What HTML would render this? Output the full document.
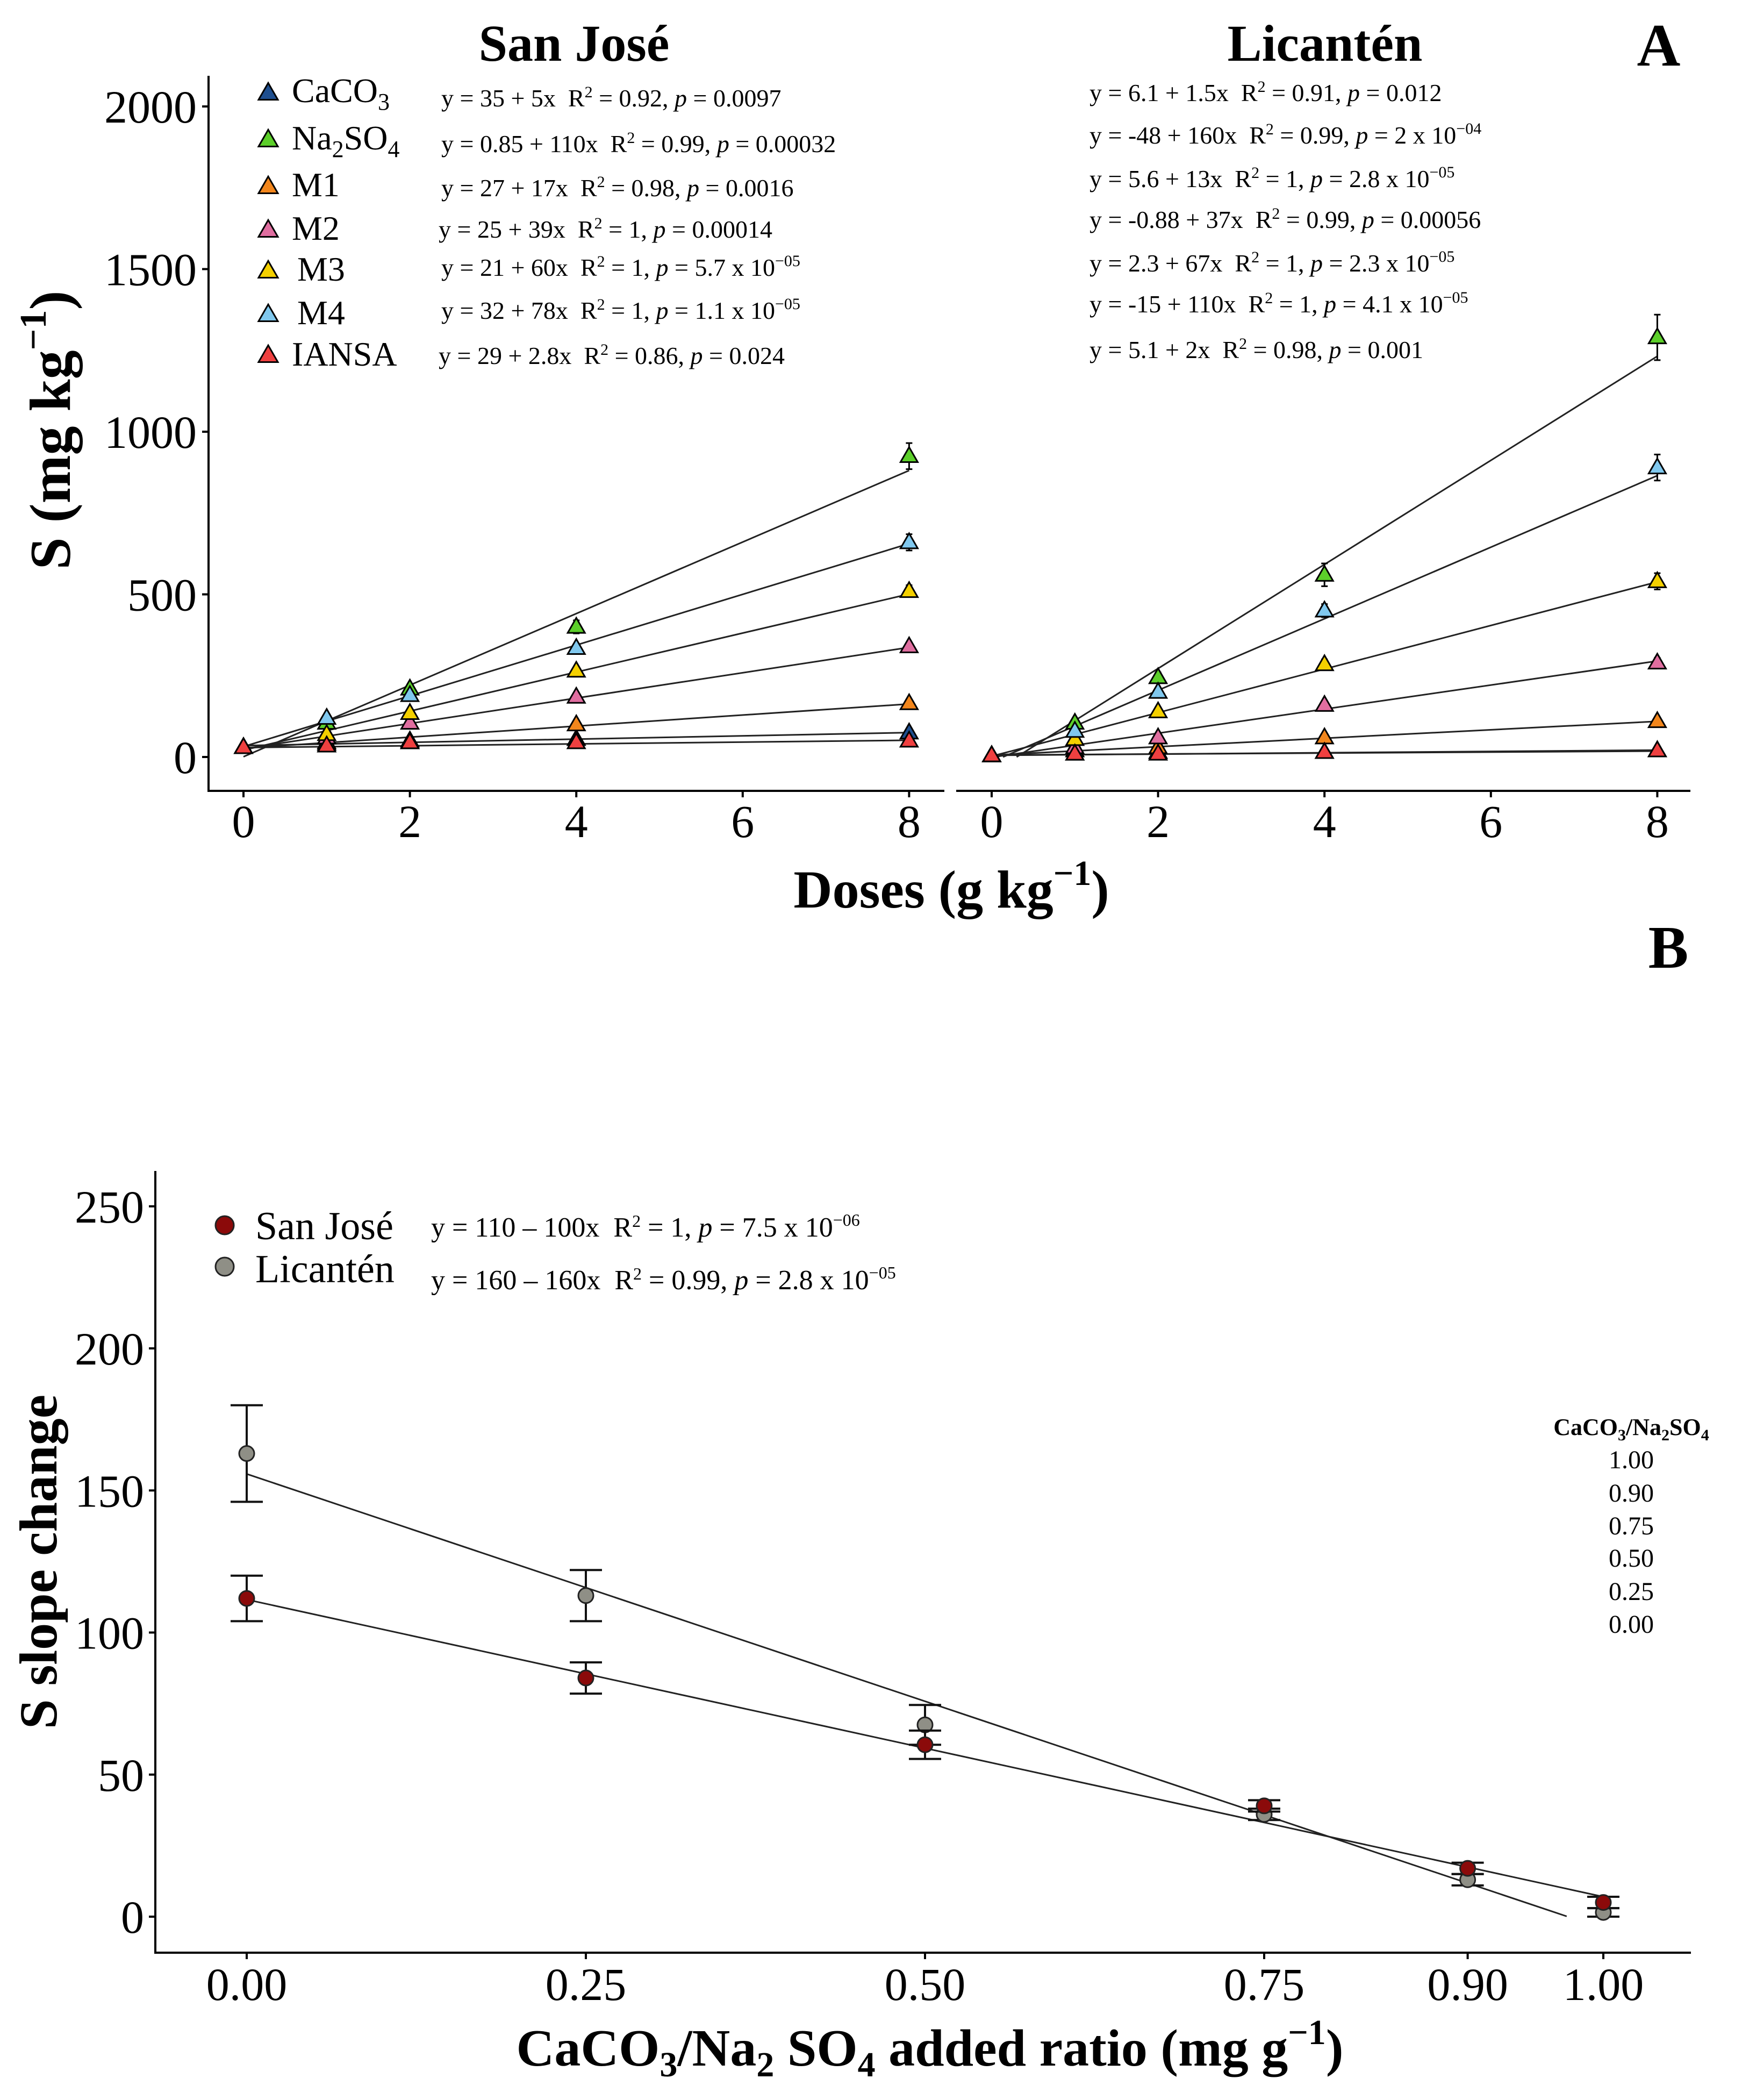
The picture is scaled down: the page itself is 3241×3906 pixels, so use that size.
<!DOCTYPE html>
<html><head><meta charset="utf-8">
<style>
html,body{margin:0;padding:0;background:#fff;}
svg{display:block;font-family:"Liberation Serif",serif;}
text{white-space:pre;}
.eq{font-size:46px;}
.eqb{font-size:52px;}
</style></head>
<body>
<svg id="fig" width="3241" height="3906" viewBox="0 0 3241 3906" xmlns="http://www.w3.org/2000/svg">
<rect width="3241" height="3906" fill="#fff"/>
<text x="1068" y="113" text-anchor="middle" font-size="96" font-weight="bold">San José</text>
<text x="2465" y="113" text-anchor="middle" font-size="96" font-weight="bold">Licantén</text>
<text x="3086" y="122" text-anchor="middle" font-size="112" font-weight="bold">A</text>
<text x="3104" y="1800" text-anchor="middle" font-size="112" font-weight="bold">B</text>
<text transform="translate(130,800) rotate(-90)" text-anchor="middle" font-size="108" font-weight="bold">S (mg kg<tspan dy="-45" font-size="70">−1</tspan><tspan dy="45">)</tspan></text>
<text x="1770" y="1688" text-anchor="middle" font-size="100" font-weight="bold">Doses (g kg<tspan dy="-42" font-size="66">−1</tspan><tspan dy="42">)</tspan></text>

<g font-size="64">
 <text x="543" y="190">CaCO<tspan dy="14" font-size="44">3</tspan></text>
 <text x="543" y="278">Na<tspan dy="14" font-size="44">2</tspan><tspan dy="-14">SO</tspan><tspan dy="14" font-size="44">4</tspan></text>
 <text x="543" y="365">M1</text>
 <text x="543" y="446">M2</text>
 <text x="553" y="522">M3</text>
 <text x="553" y="603">M4</text>
 <text x="543" y="680">IANSA</text>
</g>
<g class="eq">
 <text x="821" y="198">y = 35 + 5x  R<tspan dy="-17" font-size="30">2</tspan><tspan dy="17"> = 0.92, </tspan><tspan font-style="italic">p</tspan> = 0.0097</text>
 <text x="821" y="283">y = 0.85 + 110x  R<tspan dy="-17" font-size="30">2</tspan><tspan dy="17"> = 0.99, </tspan><tspan font-style="italic">p</tspan> = 0.00032</text>
 <text x="821" y="365">y = 27 + 17x  R<tspan dy="-17" font-size="30">2</tspan><tspan dy="17"> = 0.98, </tspan><tspan font-style="italic">p</tspan> = 0.0016</text>
 <text x="816" y="442">y = 25 + 39x  R<tspan dy="-17" font-size="30">2</tspan><tspan dy="17"> = 1, </tspan><tspan font-style="italic">p</tspan> = 0.00014</text>
 <text x="821" y="513">y = 21 + 60x  R<tspan dy="-17" font-size="30">2</tspan><tspan dy="17"> = 1, </tspan><tspan font-style="italic">p</tspan> = 5.7 x 10<tspan dy="-18" font-size="30">−05</tspan></text>
 <text x="821" y="593">y = 32 + 78x  R<tspan dy="-17" font-size="30">2</tspan><tspan dy="17"> = 1, </tspan><tspan font-style="italic">p</tspan> = 1.1 x 10<tspan dy="-18" font-size="30">−05</tspan></text>
 <text x="816" y="677">y = 29 + 2.8x  R<tspan dy="-17" font-size="30">2</tspan><tspan dy="17"> = 0.86, </tspan><tspan font-style="italic">p</tspan> = 0.024</text>
</g>
<g class="eq">
 <text x="2027" y="188">y = 6.1 + 1.5x  R<tspan dy="-17" font-size="30">2</tspan><tspan dy="17"> = 0.91, </tspan><tspan font-style="italic">p</tspan> = 0.012</text>
 <text x="2027" y="267">y = -48 + 160x  R<tspan dy="-17" font-size="30">2</tspan><tspan dy="17"> = 0.99, </tspan><tspan font-style="italic">p</tspan> = 2 x 10<tspan dy="-18" font-size="30">−04</tspan></text>
 <text x="2027" y="348">y = 5.6 + 13x  R<tspan dy="-17" font-size="30">2</tspan><tspan dy="17"> = 1, </tspan><tspan font-style="italic">p</tspan> = 2.8 x 10<tspan dy="-18" font-size="30">−05</tspan></text>
 <text x="2027" y="424">y = -0.88 + 37x  R<tspan dy="-17" font-size="30">2</tspan><tspan dy="17"> = 0.99, </tspan><tspan font-style="italic">p</tspan> = 0.00056</text>
 <text x="2027" y="505">y = 2.3 + 67x  R<tspan dy="-17" font-size="30">2</tspan><tspan dy="17"> = 1, </tspan><tspan font-style="italic">p</tspan> = 2.3 x 10<tspan dy="-18" font-size="30">−05</tspan></text>
 <text x="2027" y="581">y = -15 + 110x  R<tspan dy="-17" font-size="30">2</tspan><tspan dy="17"> = 1, </tspan><tspan font-style="italic">p</tspan> = 4.1 x 10<tspan dy="-18" font-size="30">−05</tspan></text>
 <text x="2027" y="666">y = 5.1 + 2x  R<tspan dy="-17" font-size="30">2</tspan><tspan dy="17"> = 0.98, </tspan><tspan font-style="italic">p</tspan> = 0.001</text>
</g>

<text transform="translate(105,2905) rotate(-90)" text-anchor="middle" font-size="100" font-weight="bold">S slope change</text>
<text x="1730" y="3842" text-anchor="middle" font-size="98" font-weight="bold">CaCO<tspan dy="20" font-size="66">3</tspan><tspan dy="-20">/Na</tspan><tspan dy="20" font-size="66">2</tspan><tspan dy="-20"> SO</tspan><tspan dy="20" font-size="66">4</tspan><tspan dy="-20"> added ratio (mg g</tspan><tspan dy="-40" font-size="66">−1</tspan><tspan dy="40">)</tspan></text>
<g>
 <text x="475" y="2305" font-size="74">San José</text>
 <text x="475" y="2385" font-size="74">Licantén</text>
 <text class="eqb" x="802" y="2300">y = 110 – 100x  R<tspan dy="-18" font-size="32">2</tspan><tspan dy="18"> = 1, </tspan><tspan font-style="italic">p</tspan> = 7.5 x 10<tspan dy="-20" font-size="32">−06</tspan></text>
 <text class="eqb" x="802" y="2398">y = 160 – 160x  R<tspan dy="-18" font-size="32">2</tspan><tspan dy="18"> = 0.99, </tspan><tspan font-style="italic">p</tspan> = 2.8 x 10<tspan dy="-20" font-size="32">−05</tspan></text>
</g>
<g text-anchor="middle">
 <text x="3035" y="2669" font-size="44" font-weight="bold">CaCO<tspan dy="10" font-size="30">3</tspan><tspan dy="-10">/Na</tspan><tspan dy="10" font-size="30">2</tspan><tspan dy="-10">SO</tspan><tspan dy="10" font-size="30">4</tspan></text>
 <g font-size="48"><text x="3035" y="2731">1.00</text><text x="3035" y="2793">0.90</text><text x="3035" y="2854">0.75</text><text x="3035" y="2914">0.50</text><text x="3035" y="2976">0.25</text><text x="3035" y="3037">0.00</text></g>
</g>
<g id="marks"></g>
</svg>
<script>
// ---------- Panel A data ----------
const doses = [0, 1, 2, 4, 8];
const treatments = ["CaCO3", "Na2SO4", "M1", "M2", "M3", "M4", "IANSA"];
const treatColors = ["#1f4f8f", "#5ccf2a", "#f2861c", "#e06ea0", "#f4d000", "#80c8ee", "#ef4040"];
const sjValues = [
  [30, 40, 45, 55, 75],
  [30, 105, 210, 400, 925],
  [30, 45, 50, 100, 165],
  [30, 60, 105, 185, 340],
  [30, 70, 135, 265, 510],
  [30, 120, 190, 335, 660],
  [30, 35, 45, 45, 50]
];
const sjErr = [
  [5, 5, 5, 10, 8],
  [5, 8, 12, 20, 40],
  [5, 5, 5, 8, 8],
  [5, 5, 8, 10, 10],
  [5, 5, 8, 12, 18],
  [5, 8, 10, 12, 25],
  [5, 5, 5, 5, 5]
];
const sjIntercept = [35, 0.85, 27, 25, 21, 32, 29];
const sjSlope = [5, 110, 17, 39, 60, 78, 2.8];
const licValues = [
  [5, 10, 15, 15, 20],
  [5, 105, 245, 560, 1290],
  [5, 20, 30, 60, 110],
  [5, 30, 60, 160, 290],
  [5, 55, 140, 285, 540],
  [5, 80, 200, 450, 890],
  [5, 10, 10, 15, 20]
];
const licErr = [
  [3, 3, 3, 3, 5],
  [3, 10, 15, 35, 70],
  [3, 5, 5, 8, 10],
  [3, 5, 8, 12, 15],
  [3, 5, 8, 15, 25],
  [3, 8, 10, 20, 40],
  [3, 3, 3, 3, 5]
];
const licIntercept = [6.1, -48, 5.6, -0.88, 2.3, -15, 5.1];
const licSlope = [1.5, 160, 13, 37, 67, 110, 2];
const yTicksA = [0, 500, 1000, 1500, 2000];
const xTicksA = [0, 2, 4, 6, 8];

// ---------- Panel B data ----------
const ratios = [0, 0.25, 0.5, 0.75, 0.9, 1.0];
const xTickLabelsB = ["0.00", "0.25", "0.50", "0.75", "0.90", "1.00"];
const sites = ["San José", "Licantén"];
const siteColors = ["#8b0a0a", "#8f8f86"];
const sjSlopeChange = [112, 84, 60.5, 39, 17, 5];
const sjSlopeErr = [8, 5.5, 5, 2, 2, 2];
const licSlopeChange = [163, 113, 67.5, 36, 13, 1.5];
const licSlopeErr = [17, 9, 7, 2, 2, 1.5];
const fitIntercept = [111.6, 155.8];
const fitSlope = [-104.6, -160];
const fitEnd = [1.0, 0.973];
const yTicksB = [0, 50, 100, 150, 200, 250];

const NS = "http://www.w3.org/2000/svg";
const root = document.getElementById("marks");
function mk(tag, attrs, parent) {
  const e = document.createElementNS(NS, tag);
  for (const k in attrs) e.setAttribute(k, attrs[k]);
  (parent || root).appendChild(e);
  return e;
}
const yA = v => 1408 - v * 0.605;
const xL = d => 453 + d * 154.8;
const xR = d => 1845 + d * 154.8;

let ax = mk("line", {x1: 388, y1: 141, x2: 388, y2: 1471, stroke: "#000", "stroke-width": 4});


ax = mk("line", {x1: 386, y1: 1471, x2: 1757, y2: 1471, stroke: "#000", "stroke-width": 4});


ax = mk("line", {x1: 1779, y1: 1471, x2: 3145, y2: 1471, stroke: "#000", "stroke-width": 4});


yTicksA.forEach(t => {
  const l = mk("line", {x1: 376, y1: yA(t), x2: 388, y2: yA(t), stroke: "#000", "stroke-width": 4});
  
  
  const tx = mk("text", {x: 366, y: yA(t) + 30, "text-anchor": "end", "font-size": 86});
  tx.textContent = t;
  
  
});
[xL, xR].forEach(sx => {
  xTicksA.forEach(t => {
    const l = mk("line", {x1: sx(t), y1: 1471, x2: sx(t), y2: 1483, stroke: "#000", "stroke-width": 4});
    
    
    const tx = mk("text", {x: sx(t), y: 1557, "text-anchor": "middle", "font-size": 86});
    tx.textContent = t;
    
    
  });
});
function tri(cx, cy, color, s, name) {
  const h = s * 0.87;
  const p = mk("polygon", {points: `${cx},${cy - h * 0.6} ${cx - s / 2},${cy + h * 0.4} ${cx + s / 2},${cy + h * 0.4}`, fill: color, stroke: "#000", "stroke-width": 3});
  
  
  return p;
}
function panelA(sx, vals, errs, icpt, slope, site) {
  treatments.forEach((t, i) => {
    const x0 = icpt[i] < 0 ? -icpt[i] / slope[i] : 0;
    const l = mk("line", {x1: sx(x0), y1: yA(icpt[i] + slope[i] * x0), x2: sx(8), y2: yA(icpt[i] + slope[i] * 8), stroke: "#222", "stroke-width": 3});
    
    
  });
  treatments.forEach((t, i) => {
    doses.forEach((d, j) => {
      const v = vals[i][j], e = errs[i][j];
      const eb = mk("path", {d: `M${sx(d)},${yA(v + e)}V${yA(v - e)}M${sx(d) - 6},${yA(v + e)}H${sx(d) + 6}M${sx(d) - 6},${yA(v - e)}H${sx(d) + 6}`, stroke: "#000", "stroke-width": 3, fill: "none"});
      
      
    });
  });
  for (let i = 0; i < treatments.length; i++) {
    doses.forEach((d, j) => {
      tri(sx(d), yA(vals[i][j]), treatColors[i], 32, 'point-' + site + '-' + treatments[i].toLowerCase());
    });
  }
}
panelA(xL, sjValues, sjErr, sjIntercept, sjSlope, 'san-jose');
panelA(xR, licValues, licErr, licIntercept, licSlope, 'licanten');
[173, 260, 347, 428, 504, 585, 661].forEach((yy, i) => {
  tri(499, yy, treatColors[i], 36, 'legend-key-' + treatments[i].toLowerCase());
});

const yB = v => 3565 - v * 5.285;
const xB = r => 459 + r * 2524;
ax = mk("line", {x1: 289, y1: 2178, x2: 289, y2: 3632, stroke: "#000", "stroke-width": 4});


ax = mk("line", {x1: 287, y1: 3632, x2: 3146, y2: 3632, stroke: "#000", "stroke-width": 4});


yTicksB.forEach(t => {
  const l = mk("line", {x1: 277, y1: yB(t), x2: 289, y2: yB(t), stroke: "#000", "stroke-width": 4});
  
  
  const tx = mk("text", {x: 268, y: yB(t) + 30, "text-anchor": "end", "font-size": 86});
  tx.textContent = t;
  
  
});
ratios.forEach((r, i) => {
  const l = mk("line", {x1: xB(r), y1: 3632, x2: xB(r), y2: 3644, stroke: "#000", "stroke-width": 4});
  
  
  const tx = mk("text", {x: xB(r), y: 3720, "text-anchor": "middle", "font-size": 86});
  tx.textContent = xTickLabelsB[i];
  
  
});
[0, 1].forEach(k => {
  const l = mk("line", {x1: xB(0), y1: yB(fitIntercept[k]), x2: xB(fitEnd[k]), y2: yB(fitIntercept[k] + fitSlope[k] * fitEnd[k]), stroke: "#222", "stroke-width": 3});
  
  
});
[[licSlopeChange, licSlopeErr, 1], [sjSlopeChange, sjSlopeErr, 0]].forEach(([vals, errs, k]) => {
  ratios.forEach((r, j) => {
    const x = xB(r), v = vals[j], e = errs[j];
    const eb = mk("path", {d: `M${x},${yB(v + e)}V${yB(v - e)}M${x - 30},${yB(v + e)}H${x + 30}M${x - 30},${yB(v - e)}H${x + 30}`, stroke: "#111", "stroke-width": 4, fill: "none"});
    
    
    const c = mk("circle", {cx: x, cy: yB(v), r: 14, fill: siteColors[k], stroke: "#222", "stroke-width": 3});
    
    
  });
});
[2279, 2356].forEach((yy, k) => {
  const c = mk("circle", {cx: 418, cy: yy, r: 17, fill: siteColors[k], stroke: "#222", "stroke-width": 3});
  
  
});
</script>
</body></html>
